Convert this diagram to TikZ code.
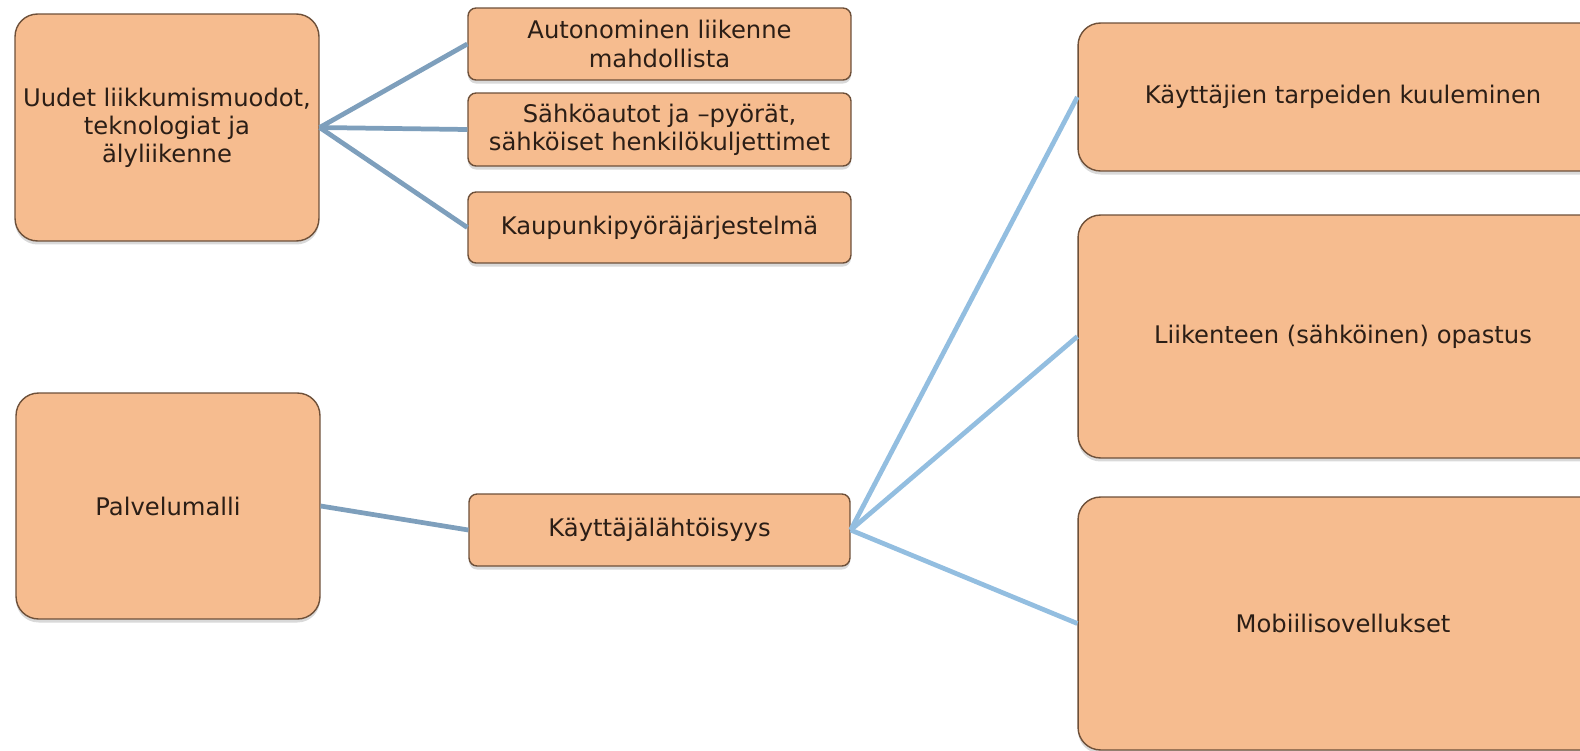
\documentclass[tikz,border=0pt]{standalone}
\usepackage{fontspec}
\setmainfont{DejaVu Sans}
\usetikzlibrary{positioning,shadows}
\definecolor{boxfill}{HTML}{F6BC8F}
\definecolor{boxline}{HTML}{6E5039}
\definecolor{boxtext}{HTML}{2B1E16}
\definecolor{leftlink}{HTML}{7E9FBC}
\definecolor{rightlink}{HTML}{93BEE0}

\begin{document}
\begin{tikzpicture}
        [x=0.02cm,y=-0.02cm,
         every node/.style={draw=boxline,line width=0.8pt,fill=boxfill,text=boxtext,align=center,inner sep=2pt,
           font=\fontsize{13.8}{16}\selectfont,
           drop shadow={shadow xshift=0pt,shadow yshift=-2pt,opacity=0.3}},
         bigbox/.style={rounded corners=0.45cm},
         smallbox/.style={rounded corners=0.16cm},
         darklink/.style={draw=leftlink,line width=2.7pt},
         lightlink/.style={draw=rightlink,line width=2.7pt}]
        \useasboundingbox (0,0) rectangle (1580,751);

        \node[bigbox,minimum width=6.08cm,minimum height=4.54cm] (uudet) at (167,127.5) {Uudet liikkumismuodot,\\teknologiat ja\\älyliikenne};
        \node[smallbox,minimum width=7.66cm,minimum height=1.44cm] (auto) at (659.5,44) {Autonominen liikenne\\mahdollista};
        \node[smallbox,minimum width=7.66cm,minimum height=1.46cm] (sahko) at (659.5,129.5) {Sähköautot ja –pyörät,\\sähköiset henkilökuljettimet};
        \node[smallbox,minimum width=7.66cm,minimum height=1.42cm] (pyora) at (659.5,227.5) {Kaupunkipyöräjärjestelmä};

        \node[bigbox,minimum width=6.08cm,minimum height=4.52cm] (palvelu) at (168,506) {Palvelumalli};
        \node[smallbox,minimum width=7.62cm,minimum height=1.44cm] (kayttaja) at (659.5,530) {Käyttäjälähtöisyys};

        \node[bigbox,minimum width=10.6cm,minimum height=2.96cm] (kuulem) at (1343,97) {Käyttäjien tarpeiden kuuleminen};
        \node[bigbox,minimum width=10.6cm,minimum height=4.86cm] (opastus) at (1343,336.5) {Liikenteen (sähköinen) opastus};
        \node[bigbox,minimum width=10.6cm,minimum height=5.06cm] (mobiili) at (1343,623.5) {Mobiilisovellukset};

        \foreach \to in {auto, sahko, pyora}
            \draw[darklink] (uudet.east) -- (\to.west);
        \draw[darklink] (palvelu.east) -- (kayttaja.west);
        \foreach \to in {kuulem, opastus, mobiili}
            \draw[lightlink] (kayttaja.east) -- (\to.west);

      \end{tikzpicture}
\end{document}
